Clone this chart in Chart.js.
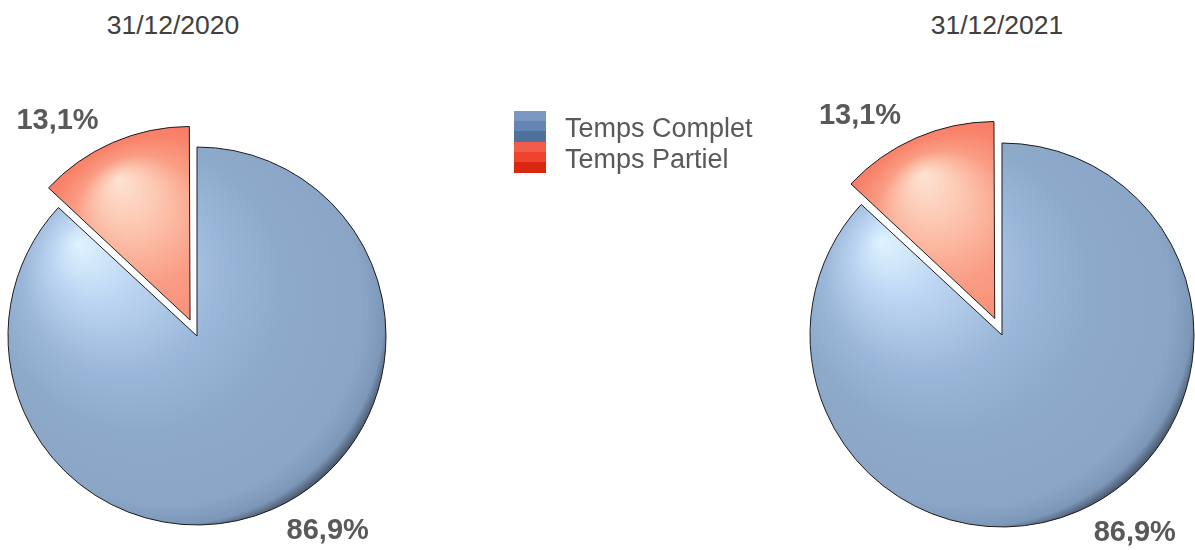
<!DOCTYPE html>
<html lang="fr">
<head>
  <meta charset="UTF-8">
  <title>Temps Complet / Temps Partiel</title>
  <script src="https://cdn.jsdelivr.net/npm/chart.js"></script>
  <style>
    body { margin: 0; background: #fff; width: 1195px; height: 550px; overflow: hidden; position: relative;
           font-family: "Liberation Sans", Arial, sans-serif; }
    canvas { position: absolute; left: 0; top: 0; }
    .titre { position: absolute; top: 10px; width: 240px; margin-left: -120px; text-align: center;
             font-size: 26.5px; line-height: 30px; color: #404040; }
    #legende { position: absolute; left: 514px; top: 111px; }
    .ligne { position: relative; height: 31px; }
    .carre { position: absolute; left: 0; top: 0; width: 32px; height: 31px; }
    .texte { position: absolute; left: 51px; top: 2px; font-size: 27px; line-height: 30px; color: #595959; white-space: nowrap; }
  </style>
</head>
<body>
  <div class="titre" id="t0" style="left:173px"></div>
  <div class="titre" id="t1" style="left:997px"></div>
  <canvas id="c2020" width="1195" height="550"></canvas>
  <canvas id="c2021" width="1195" height="550"></canvas>
  <div id="legende"></div>

  <script>
    const dates = ['31/12/2020', '31/12/2021'];
    const categories = ['Temps Complet', 'Temps Partiel'];
    const valeurs2020 = [86.9, 13.1];
    const valeurs2021 = [86.9, 13.1];

    // dégradés : reflet -> bord
    const tonsBleu = ['#dff3ff', '#bcd5f2', '#9ab6d8', '#8eaacb', '#8aa5c5', '#7d97b8', '#46546a'];
    const posBleu = [0, 0.2, 0.45, 0.65, 0.9, 0.965, 1];
    const tonsRouge = ['#fde3d3', '#fcc8b2', '#fa9c84', '#f9846c', '#f7705c'];
    const posRouge = [0, 0.15, 0.35, 0.6, 1];
    const legendeBleu = ['#7a98c2', '#6486b3', '#4f719e'];
    const legendeRouge = ['#f25c4a', '#ef4330', '#d9280f'];

    const fmt = v => v.toFixed(1).replace('.', ',') + '%';

    // Chart.js déplace un arc de offset/4 * (2 - sin(angle)) : on part du déplacement voulu en pixels
    const facteur = circ => 0.25 * (2 - Math.sin(Math.min(Math.PI, circ)));

    function angles(data, i) {
      const total = data.reduce((a, b) => a + b, 0);
      let debut = -Math.PI / 2;
      for (let k = 0; k < i; k++) debut += 2 * Math.PI * data[k] / total;
      const circ = 2 * Math.PI * data[i] / total;
      return { mid: debut + circ / 2, circ };
    }

    function fondArc(rayon, depl) {
      return (c) => {
        const area = c.chart.chartArea;
        const bleu = c.dataIndex === 0;
        if (!area) return bleu ? tonsBleu[3] : tonsRouge[2];
        const { mid } = angles(c.dataset.data, c.dataIndex);
        const t = depl[c.dataIndex];
        const cx = (area.left + area.right) / 2 + Math.cos(mid) * t;
        const cy = (area.top + area.bottom) / 2 + Math.sin(mid) * t;
        const ctx = c.chart.ctx;
        let g;
        if (bleu) {
          g = ctx.createRadialGradient(cx - 0.63 * rayon, cy - 0.49 * rayon, 0,
                                       cx - 0.12 * rayon, cy - 0.12 * rayon, 1.17 * rayon);
          posBleu.forEach((p, i) => g.addColorStop(p, tonsBleu[i]));
        } else {
          g = ctx.createRadialGradient(cx - 0.33 * rayon, cy - 0.64 * rayon, 0, cx, cy, rayon);
          posRouge.forEach((p, i) => g.addColorStop(p, tonsRouge[i]));
        }
        return g;
      };
    }

    const etiquettes = {
      id: 'etiquettes',
      afterDatasetsDraw(chart) {
        const ctx = chart.ctx;
        const valeurs = chart.data.datasets[0].data;
        ctx.save();
        ctx.font = 'bold 29px "Liberation Sans", Arial, sans-serif';
        ctx.fillStyle = '#595959';
        ctx.textAlign = 'center';
        ctx.textBaseline = 'middle';
        chart.getDatasetMeta(0).data.forEach((arc, i) => {
          const mid = (arc.startAngle + arc.endAngle) / 2;
          const t = (arc.options.offset || 0) * facteur(arc.endAngle - arc.startAngle);
          const cx = arc.x + Math.cos(mid) * t;
          const cy = arc.y + Math.sin(mid) * t;
          const a = mid - 0.18;
          const d = arc.outerRadius * 1.24;
          ctx.fillText(fmt(valeurs[i]), cx + Math.cos(a) * d, cy + Math.sin(a) * d);
        });
        ctx.restore();
      }
    };

    function camembert(id, valeurs, rayon, depl, padding) {
      const offsets = depl.map((t, i) => t / facteur(angles(valeurs, i).circ));
      return new Chart(document.getElementById(id), {
        type: 'pie',
        data: {
          labels: categories,
          datasets: [{
            data: valeurs,
            backgroundColor: fondArc(rayon, depl),
            borderColor: '#1c1c1c',
            borderWidth: 1,
            offset: offsets,
            clip: false
          }]
        },
        options: {
          responsive: false,
          animation: false,
          events: [],
          radius: rayon,
          layout: { padding: padding },
          plugins: { legend: { display: false }, tooltip: { enabled: false } }
        },
        plugins: [etiquettes]
      });
    }

    camembert('c2020', valeurs2020, 189, [0, 22], { left: 0, right: 801, top: 122, bottom: 0 });
    camembert('c2021', valeurs2021, 192, [0, 23], { left: 809, right: 0, top: 120, bottom: 0 });

    document.getElementById('t0').textContent = dates[0];
    document.getElementById('t1').textContent = dates[1];

    const leg = document.getElementById('legende');
    [legendeBleu, legendeRouge].forEach((tons, i) => {
      const ligne = document.createElement('div');
      ligne.className = 'ligne';
      const carre = document.createElement('div');
      carre.className = 'carre';
      carre.style.background = `linear-gradient(${tons[0]} 0 33%, ${tons[1]} 33% 66%, ${tons[2]} 66% 100%)`;
      const txt = document.createElement('div');
      txt.className = 'texte';
      txt.textContent = categories[i];
      ligne.appendChild(carre);
      ligne.appendChild(txt);
      leg.appendChild(ligne);
    });
  </script>
</body>
</html>
